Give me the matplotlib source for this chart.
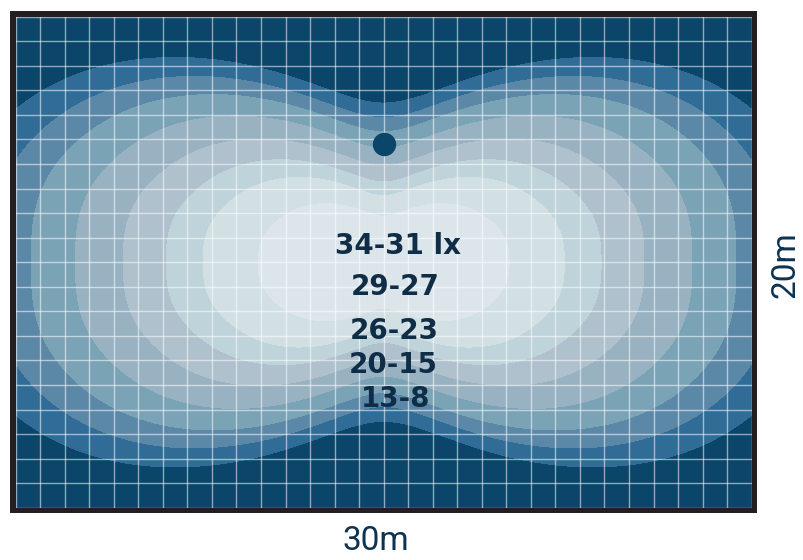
import numpy as np
import matplotlib.pyplot as plt

# room size, m
room_w, room_h = 30, 20

# illuminance bands, edge (dark) -> centre (light)
band_colors = ["#0b4569", "#316c96", "#5c88a8", "#7aa3b6", "#98b2c1",
               "#afc1cd", "#bed4da", "#d2e0e4", "#dce6ea"]

# band boundaries (m from the room centre):
# half-width along the middle row for the inner six, half-height along
# the centre column for the outer two
row_edges = [5.15, 7.4, 8.9, 10.65, 12.6, 14.4]
col_edges = [5.9, 6.5]

luminaire_x = [15.0]
luminaire_y = [14.8]

labels = ["34-31 lx", "29-27", "26-23", "20-15", "13-8"]
label_x = [15.57, 15.45, 15.45, 15.37, 15.47]
label_y = [10.67, 8.98, 7.21, 5.82, 4.43]

# shape of the isolux curves
ay = 0.475      # vertical squash
pinch = 0.22    # dip above/below the centre
sig = np.radians(11)
bulge = 0.06    # the two lobes either side of the dip
bulge_at = np.radians(30)
bulge_sig = np.radians(12)

cx, cy = room_w / 2, room_h / 2
x = np.linspace(0, room_w, 751)
y = np.linspace(0, room_h, 501)
X, Y = np.meshgrid(x, y)
u = np.abs(X - cx)
v = np.abs(Y - cy) / ay
# rounder near the middle, boxier towards the walls
n_se = 2.5 + 0.5 * np.clip(np.hypot(u, v) / 17.5, 0, 1)
r = (u ** n_se + v ** n_se) ** (1 / n_se)
th = np.arctan2(u, v)
shape = (1 - pinch * np.exp(-th ** 2 / (2 * sig ** 2))
         + bulge * np.exp(-(th - bulge_at) ** 2 / (2 * bulge_sig ** 2)))
rho = r / shape

levels = [0] + row_edges + [e / ay / (1 - pinch) for e in col_edges] + [rho.max() + 1]

fig = plt.figure(figsize=(8.04, 5.6), dpi=100)

# dark frame behind the plan
frame = fig.add_axes([10 / 804, 47.3 / 560, 746.7 / 804, 501.7 / 560])
frame.set_facecolor("#231f20")
frame.set_xticks([])
frame.set_yticks([])
for s in frame.spines.values():
    s.set_visible(False)

ax = fig.add_axes([15.7 / 804, 52.3 / 560, 736 / 804, 491 / 560])
ax.contourf(X, Y, rho, levels=levels, colors=band_colors[::-1])
ax.set_xlim(0, room_w)
ax.set_ylim(0, room_h)
ax.set_xticks(np.arange(0, room_w + 1))
ax.set_yticks(np.arange(0, room_h + 1))
ax.tick_params(length=0, labelbottom=False, labelleft=False)
ax.grid(color="white", alpha=0.55, lw=1.0)
ax.set_axisbelow(False)
for s in ax.spines.values():
    s.set_visible(False)

ax.scatter(luminaire_x, luminaire_y, s=250, color="#0b4569", zorder=5)

for t, lx, ly in zip(labels, label_x, label_y):
    ax.text(lx, ly, t, ha="center", va="center", fontsize=20,
            fontweight="bold", color="#0f2d46", zorder=6)

dim_font = dict(fontsize=24, color="#0d3350", family=["Roboto", "DejaVu Sans"],
                ha="center", va="center")
fig.text(376 / 804, 1 - 541 / 560, "30m", **dim_font)
fig.text(786 / 804, 1 - 265 / 560, "20m", rotation=90, **dim_font)

plt.savefig("out.png", dpi=100)
